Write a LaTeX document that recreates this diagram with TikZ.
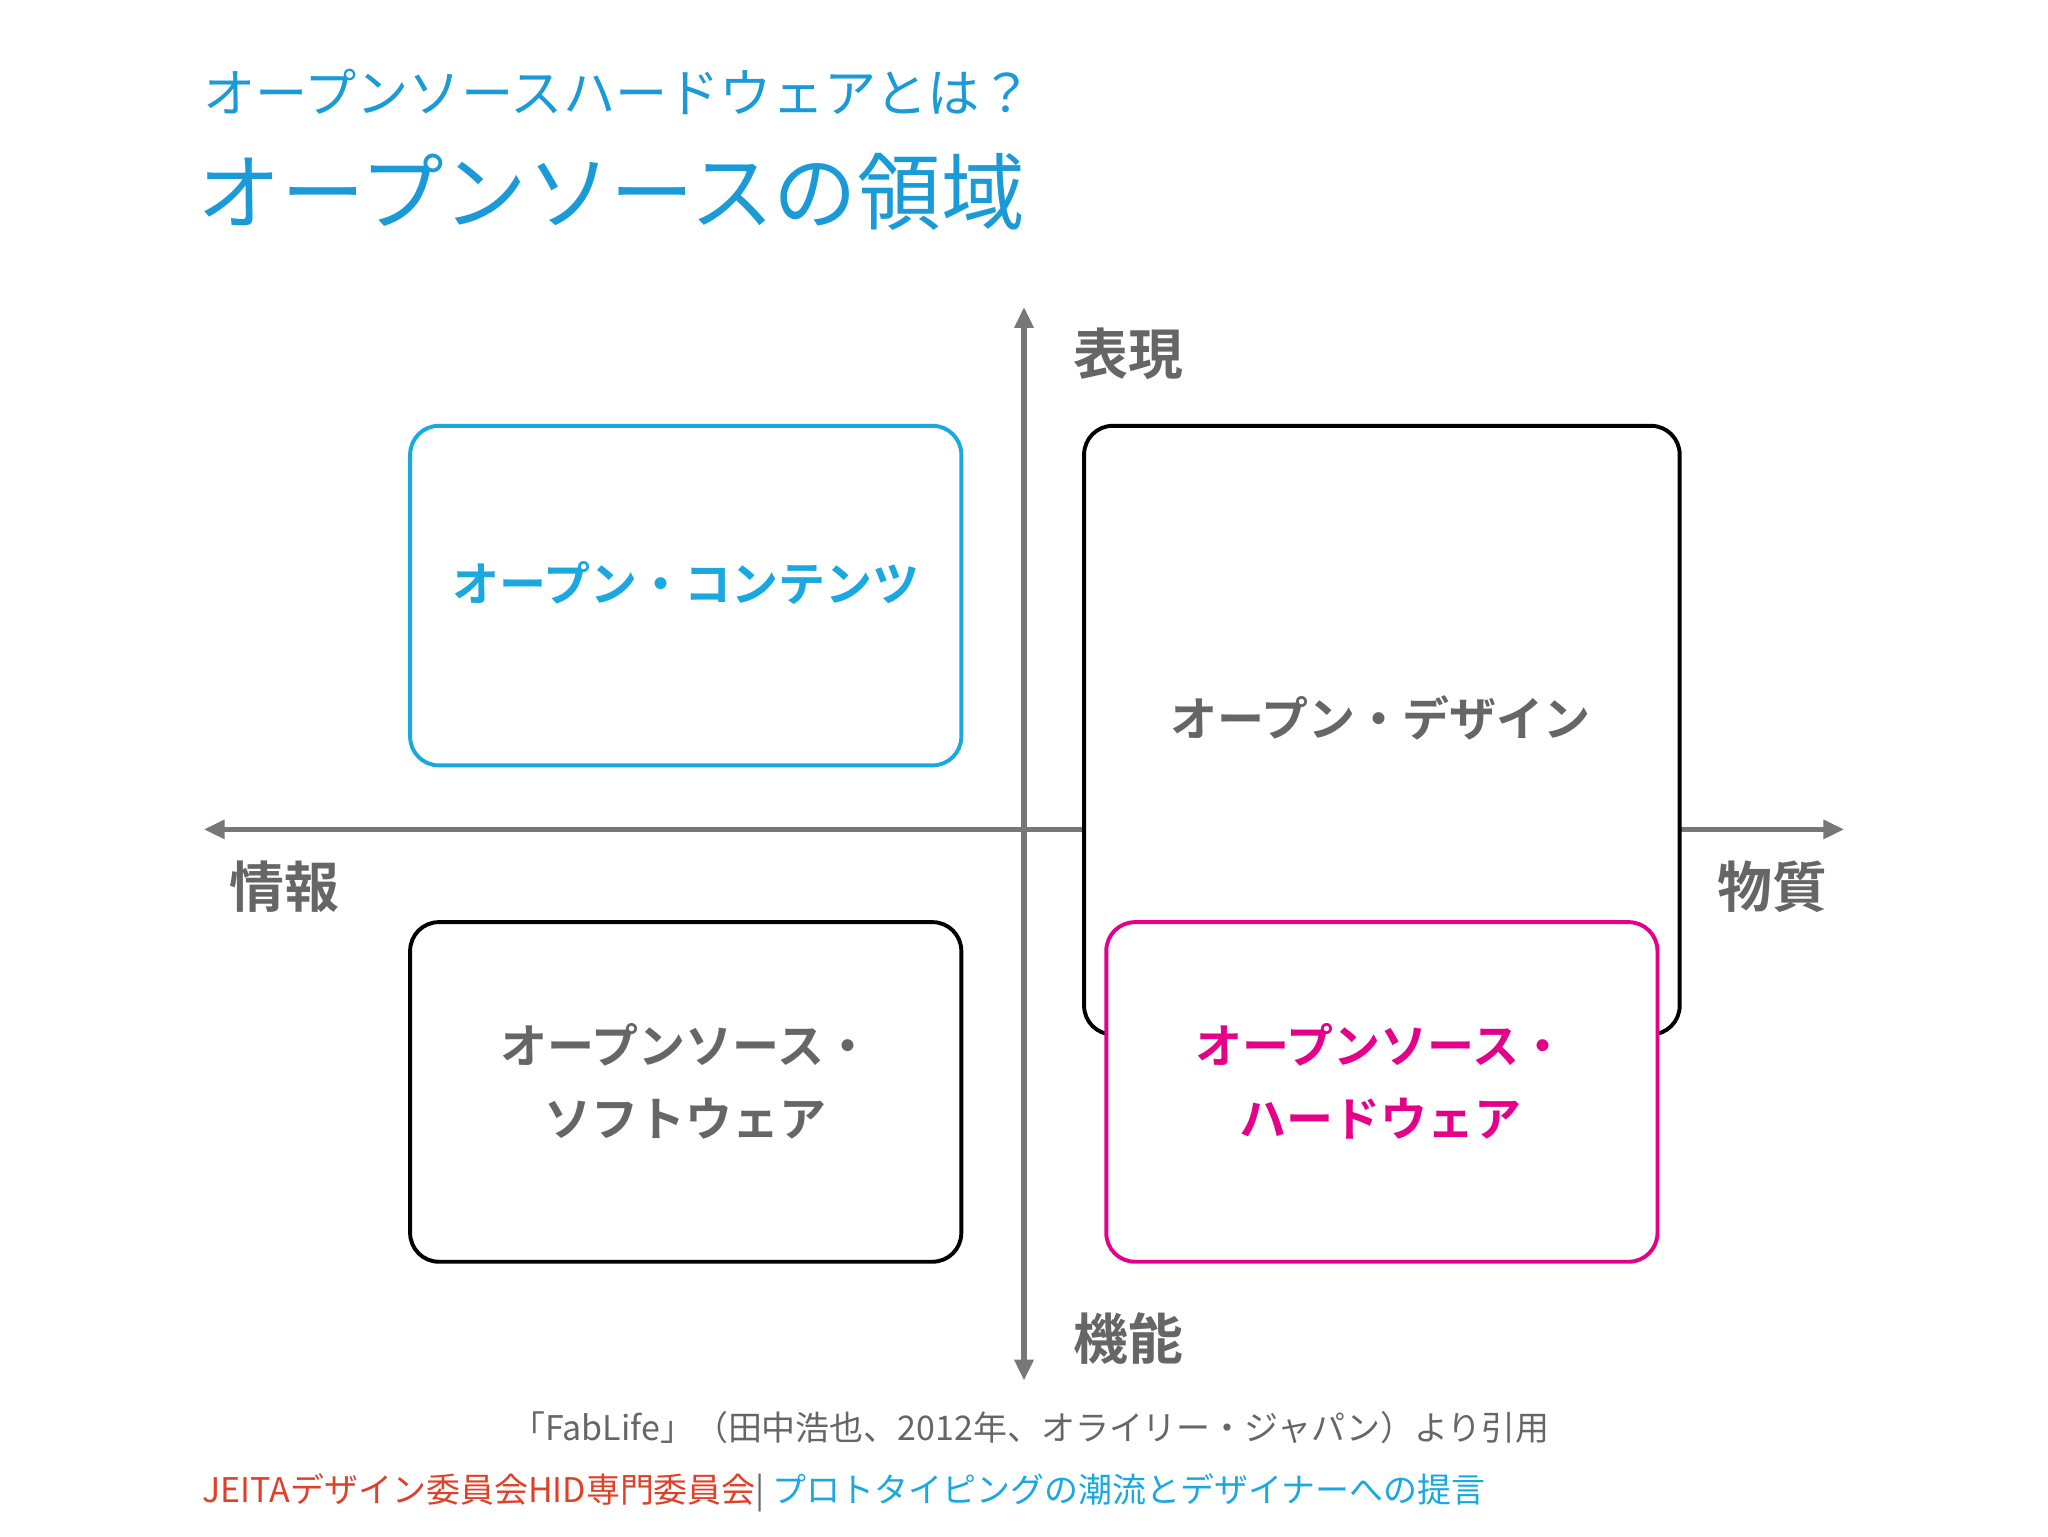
\documentclass[tikz,border=0pt]{standalone}
\usepackage{fontspec}
\setmainfont{Noto Sans CJK JP}[BoldFont={Noto Sans CJK JP Bold}]
\usetikzlibrary{arrows.meta}
\definecolor{cy}{HTML}{1AA8E0}
\definecolor{tc}{HTML}{1A9AD6}
\definecolor{mg}{HTML}{E5008A}
\definecolor{ax}{HTML}{777777}
\definecolor{tx}{HTML}{666666}
\definecolor{rd}{HTML}{E0402A}
\begin{document}
\begin{tikzpicture}[x=1pt,y=-1pt,
  ax/.style={draw=ax,line width=4pt,-{Triangle[length=16pt,width=14pt]}},
  card/.style={draw,line width=3pt,rounded corners=22pt,fill=white},
  lab/.style={font=\bfseries\fontsize{36}{56}\selectfont,align=center},
  axl/.style={font=\bfseries\fontsize{42}{50}\selectfont,text=tx}]
\useasboundingbox (0,0) rectangle (1568,1176);
\coordinate (top) at (784,235); \coordinate (bot) at (784,1057);
\coordinate (lft) at (156,635); \coordinate (rgt) at (1412,635);
\coordinate (c0) at (784,635);
\draw[ax] (c0) -- (top); \draw[ax] (c0) -- (bot);
\draw[ax] (c0) -- (lft); \draw[ax] (c0) -- (rgt);
\draw[card,draw=cy] (314,326) rectangle (736,586);
\draw[card,draw=black] (830,326) rectangle (1286,792);
\draw[card,draw=black] (314,706) rectangle (736,966);
\draw[card,draw=mg] (847,706) rectangle (1269,966);
\node[lab,text=cy] (oc) at (525,446) {オープン・コンテンツ};
\node[lab,text=tx] (od) at (1057,550) {オープン・デザイン};
\node[lab,text=tx] (os) at (525,828) {オープンソース・\\ソフトウェア};
\node[lab,text=mg] (oh) at (1057,828) {オープンソース・\\ハードウェア};
\node[axl] (l1) at (864,271) {表現};
\node[axl] (l2) at (864,1025) {機能};
\node[axl] (l3) at (218,679) {情報};
\node[axl] (l4) at (1357,679) {物質};
\node[anchor=west,text=tc,font=\fontsize{40}{48}\selectfont] (st) at (152,70) {オープンソースハードウェアとは？};
\node[anchor=west,text=tc,font=\fontsize{64}{72}\selectfont] (tt) at (148,147) {オープンソースの領域};
\node[text=tx,font=\fontsize{26}{30}\selectfont] (cite) at (789,1093) {「FabLife」（田中浩也、2012年、オライリー・ジャパン）より引用};
\node[anchor=west,font=\fontsize{26}{30}\selectfont,inner xsep=0pt] (ft) at (155,1143) {\textcolor{rd}{JEITAデザイン委員会HID専門委員会}\textcolor{tx}{ | }\textcolor{cy}{プロトタイピングの潮流とデザイナーへの提言}};
\end{tikzpicture}
\end{document}
